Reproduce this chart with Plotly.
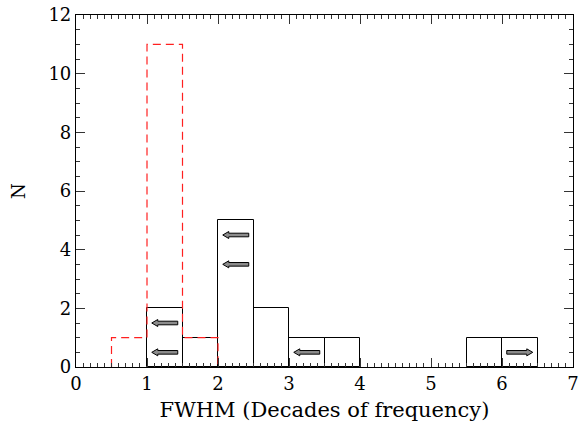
import plotly.graph_objects as go

# Data
bin_edges_black = [1.0, 1.5, 2.0, 2.5, 3.0, 3.5, 5.5, 6.0]   # left edges
counts_black = [2, 1, 5, 2, 1, 1, 1, 1]
bin_width = 0.5

red_edges = [0.5, 1.0, 1.5, 2.0]
red_counts = [1, 11, 1]

left_arrow_x = [1.25, 1.25, 2.25, 2.25, 3.25]
left_arrow_y = [0.5, 1.5, 3.5, 4.5, 0.5]
right_arrow_x = [6.25]
right_arrow_y = [0.5]

x_title = "FWHM (Decades of frequency)"
y_title = "N"

FONT = "DejaVu Serif"

fig = go.Figure()

# black histogram bars
fig.add_trace(go.Bar(
    x=[e + bin_width / 2 for e in bin_edges_black],
    y=counts_black,
    width=bin_width,
    marker=dict(color="rgba(0,0,0,0)", line=dict(color="black", width=1)),
    showlegend=False,
    hoverinfo="skip",
))

# red dashed histogram outline
rx, ry = [red_edges[0]], [0]
for i, c in enumerate(red_counts):
    rx += [red_edges[i], red_edges[i + 1]]
    ry += [c, c]
rx.append(red_edges[-1])
ry.append(0)
fig.add_trace(go.Scatter(
    x=rx, y=ry, mode="lines",
    line=dict(color="#ff2020", width=1.2, dash="8px,5px"),
    showlegend=False, hoverinfo="skip",
))

# arrows (pixel-sized shapes anchored at data coordinates)
L, HW, SH, HL = 13, 3.5, 1.8, 6


def arrow_path(direction):
    d = direction
    pts = [(-d * L, 0), (-d * (L - HL), HW), (-d * (L - HL), SH), (d * L, SH),
           (d * L, -SH), (-d * (L - HL), -SH), (-d * (L - HL), -HW)]
    return "M " + " L ".join(f"{px},{py}" for px, py in pts) + " Z"


for xs, ys, dirn in [(left_arrow_x, left_arrow_y, 1), (right_arrow_x, right_arrow_y, -1)]:
    for xa, ya in zip(xs, ys):
        fig.add_shape(
            type="path", xref="x", yref="y",
            xsizemode="pixel", ysizemode="pixel",
            xanchor=xa, yanchor=ya,
            path=arrow_path(dirn),
            fillcolor="#8c8c8c", line=dict(color="black", width=1),
            layer="above",
        )

axis_common = dict(
    showline=True, linecolor="black", linewidth=1.2, mirror="allticks",
    ticks="inside", tickcolor="#333", showgrid=False, zeroline=False,
    automargin=False,
    tickfont=dict(family=FONT, size=18, color="black"),
)

fig.update_xaxes(
    range=[0, 7], dtick=1, tick0=0, ticklen=9, tickwidth=1,
    minor=dict(dtick=0.1, ticklen=4, ticks="inside", tickcolor="#333", tickwidth=1),
    title=dict(text=x_title, font=dict(family=FONT, size=21, color="black"), standoff=9),
    **axis_common,
)
fig.update_yaxes(
    range=[0, 12], dtick=2, tick0=0, ticklen=9, tickwidth=1,
    minor=dict(dtick=0.5, ticklen=4, ticks="inside", tickcolor="#333", tickwidth=1),
    title=dict(text=y_title, font=dict(family=FONT, size=18, color="black"), standoff=18),
    **axis_common,
)

fig.update_layout(
    width=582, height=426,
    margin=dict(l=76, r=9, t=15, b=59),
    paper_bgcolor="white", plot_bgcolor="white",
    bargap=0,
    font=dict(family=FONT),
)

fig.write_html("out.html", config={"displayModeBar": False},
               post_script="document.body.style.margin='0';")
